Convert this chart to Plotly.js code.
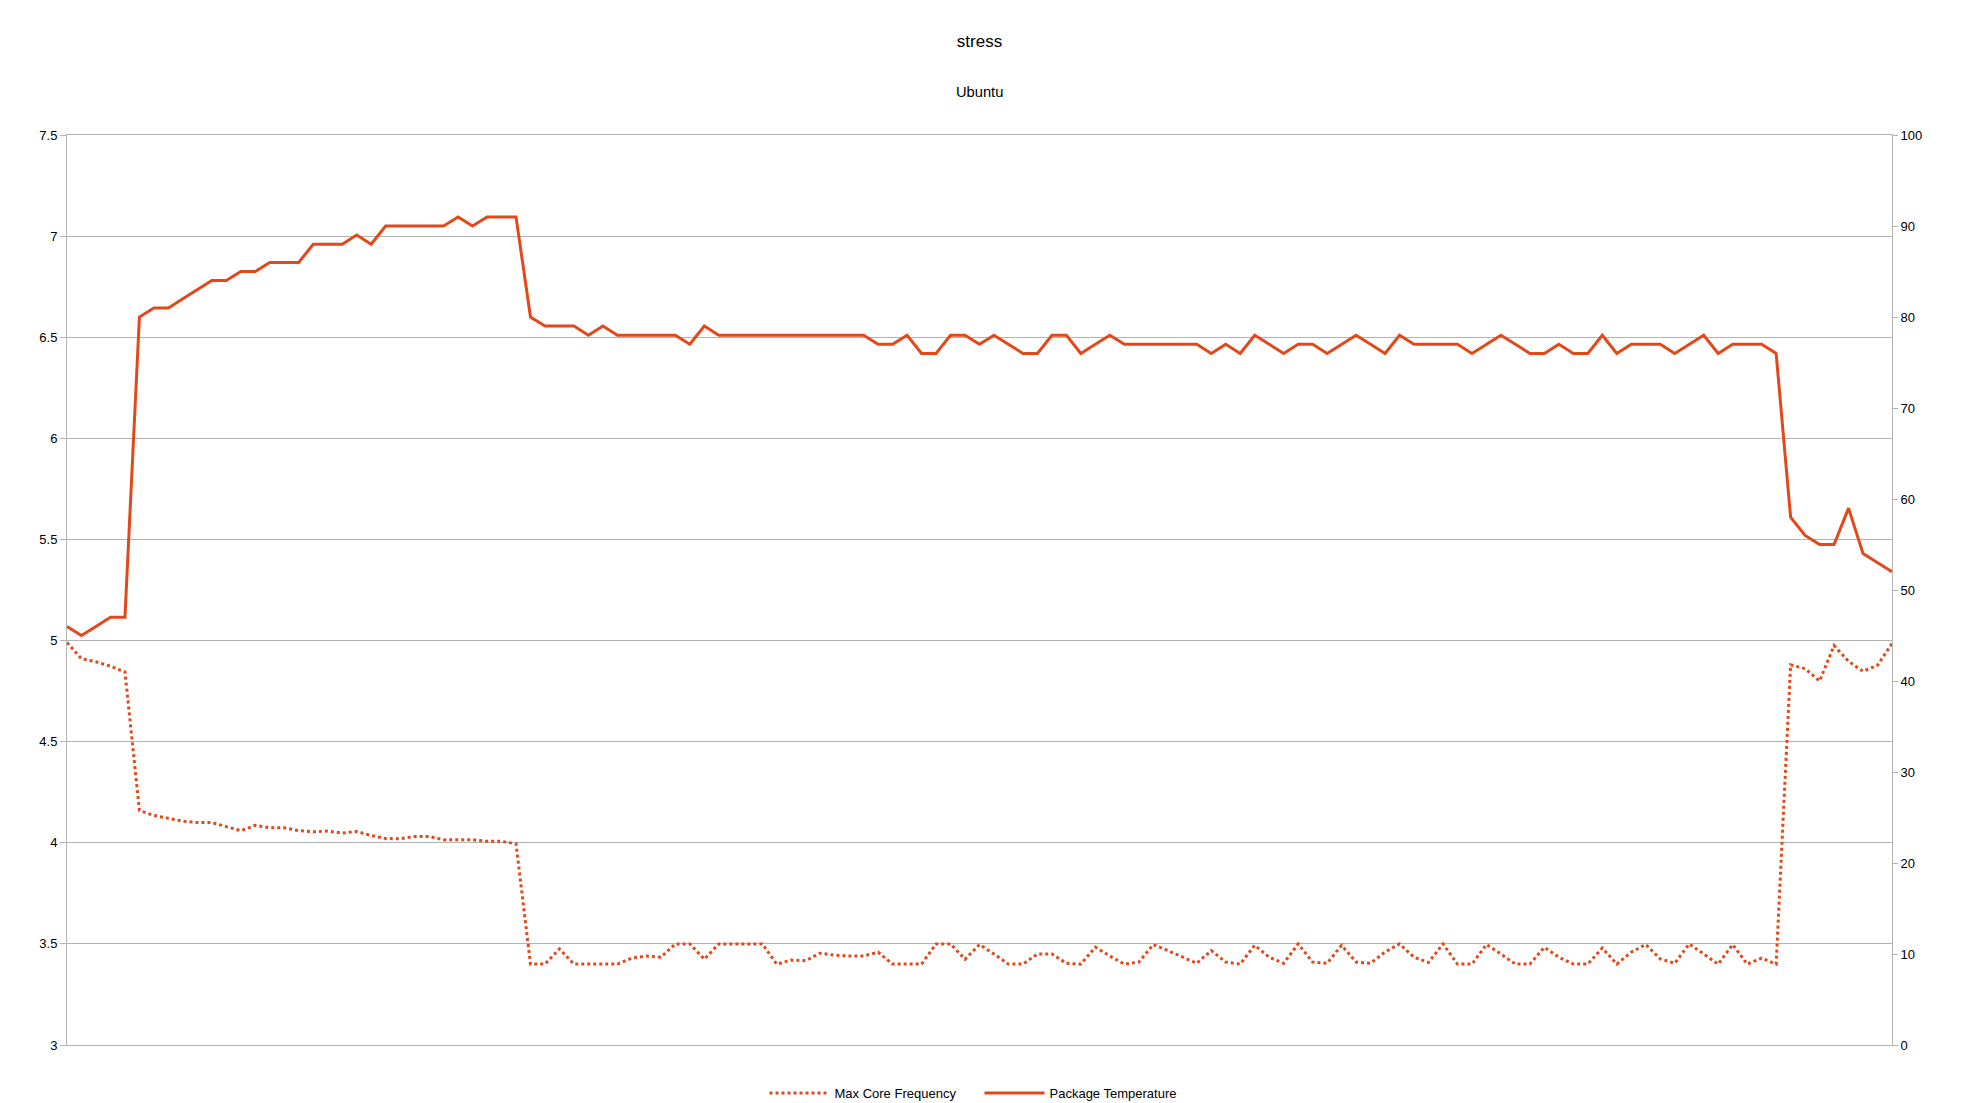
<!DOCTYPE html>
<html>
<head>
<meta charset="utf-8">
<script src="https://cdn.plot.ly/plotly-3.0.1.min.js"></script>
<style>
  html, body { margin: 0; padding: 0; background: #ffffff; }
  #chart { width: 1962px; height: 1103px; }
</style>
</head>
<body>
<div id="chart"></div>
<script>
// ---- data ----
const chartTitle = "stress";
const chartSubtitle = "Ubuntu";
const seriesNames = ["Max Core Frequency", "Package Temperature"];

// Max Core Frequency (left axis)
const maxCoreFrequency = [
  4.99, 4.91, 4.895, 4.873, 4.845, 4.16, 4.135, 4.12, 4.107, 4.10,
  4.10, 4.08, 4.06, 4.086, 4.074, 4.074, 4.06, 4.054, 4.058, 4.048,
  4.056, 4.036, 4.021, 4.02, 4.031, 4.031, 4.015, 4.015, 4.015, 4.007,
  4.007, 3.995, 3.40, 3.40, 3.475, 3.40, 3.40, 3.40, 3.40, 3.43,
  3.44, 3.434, 3.50, 3.50, 3.424, 3.50, 3.50, 3.50, 3.50, 3.40,
  3.42, 3.417, 3.454, 3.444, 3.44, 3.44, 3.459, 3.40, 3.40, 3.40,
  3.50, 3.50, 3.424, 3.497, 3.45, 3.40, 3.40, 3.45, 3.45, 3.404,
  3.40, 3.484, 3.44, 3.40, 3.41, 3.497, 3.467, 3.437, 3.404, 3.467,
  3.41, 3.40, 3.493, 3.434, 3.404, 3.50, 3.41, 3.404, 3.493, 3.41,
  3.404, 3.46, 3.50, 3.434, 3.408, 3.50, 3.40, 3.40, 3.497, 3.45,
  3.40, 3.40, 3.483, 3.434, 3.40, 3.40, 3.48, 3.40, 3.459, 3.497,
  3.426, 3.404, 3.50, 3.45, 3.40, 3.497, 3.40, 3.43, 3.40, 4.88,
  4.861, 4.80, 4.975, 4.897, 4.848, 4.878, 4.985
];

// Package Temperature (right axis)
const packageTemperature = [
  46, 45, 46, 47, 47, 80, 81, 81, 82, 83,
  84, 84, 85, 85, 86, 86, 86, 88, 88, 88,
  89, 88, 90, 90, 90, 90, 90, 91, 90, 91,
  91, 91, 80, 79, 79, 79, 78, 79, 78, 78,
  78, 78, 78, 77, 79, 78, 78, 78, 78, 78,
  78, 78, 78, 78, 78, 78, 77, 77, 78, 76,
  76, 78, 78, 77, 78, 77, 76, 76, 78, 78,
  76, 77, 78, 77, 77, 77, 77, 77, 77, 76,
  77, 76, 78, 77, 76, 77, 77, 76, 77, 78,
  77, 76, 78, 77, 77, 77, 77, 76, 77, 78,
  77, 76, 76, 77, 76, 76, 78, 76, 77, 77,
  77, 76, 77, 78, 76, 77, 77, 77, 76, 58,
  56, 55, 55, 59, 54, 53, 52
];

// Axis tick values
const leftTicks = [3, 3.5, 4, 4.5, 5, 5.5, 6, 6.5, 7, 7.5];
const rightTicks = [0, 10, 20, 30, 40, 50, 60, 70, 80, 90, 100];

// ---- chart ----
const samples = packageTemperature.map((_, i) => i);
const lineColor = "#e2491a";
const gridColor = "#b3b3b3";
const fontFamily = "'Liberation Sans', Arial, sans-serif";

const traces = [
  {
    type: "scatter", mode: "lines", name: seriesNames[0],
    x: samples, y: maxCoreFrequency, yaxis: "y",
    line: { color: lineColor, width: 3, dash: "dot" },
    hoverinfo: "skip"
  },
  {
    type: "scatter", mode: "lines", name: seriesNames[1],
    x: samples, y: packageTemperature, yaxis: "y2",
    line: { color: lineColor, width: 3 },
    hoverinfo: "skip"
  }
];

const layout = {
  width: 1962, height: 1103,
  paper_bgcolor: "#ffffff", plot_bgcolor: "#ffffff",
  font: { family: fontFamily, size: 13, color: "#000000" },
  margin: { l: 67, r: 70, t: 135, b: 58, pad: 0, autoexpand: false },
  title: {
    text: chartTitle,
    font: { family: fontFamily, size: 17, color: "#000000" },
    x: 0.5, xanchor: "center", xref: "paper",
    y: 1 - 41 / 1103, yanchor: "middle", yref: "container"
  },
  annotations: [{
    text: chartSubtitle, showarrow: false,
    xref: "paper", yref: "paper", x: 0.5, y: 1.047,
    xanchor: "center", yanchor: "middle",
    font: { family: fontFamily, size: 14.7, color: "#000000" }
  }],
  xaxis: {
    range: [0, samples.length - 1],
    showgrid: false, zeroline: false, showticklabels: false, ticks: "",
    showline: true, linecolor: gridColor, linewidth: 1, mirror: true
  },
  yaxis: {
    range: [3, 7.5], tickvals: leftTicks, ticktext: leftTicks.map(String),
    showgrid: true, gridcolor: gridColor, gridwidth: 1,
    zeroline: false, showline: true, linecolor: gridColor, linewidth: 1,
    ticks: "outside", ticklen: 6, tickcolor: gridColor, tickwidth: 1,
    tickfont: { family: fontFamily, size: 13, color: "#000000" }
  },
  yaxis2: {
    range: [0, 100], tickvals: rightTicks, ticktext: rightTicks.map(String),
    overlaying: "y", side: "right",
    showgrid: false, zeroline: false, showline: true, linecolor: gridColor, linewidth: 1,
    ticks: "outside", ticklen: 5, tickcolor: gridColor, tickwidth: 1,
    tickfont: { family: fontFamily, size: 13, color: "#000000" }
  },
  showlegend: true,
  legend: {
    orientation: "h", x: 0.5, xanchor: "center", xref: "paper",
    y: 1 - 1093 / 1103, yanchor: "middle", yref: "container",
    font: { family: fontFamily, size: 13, color: "#000000" },
    itemwidth: 60, entrywidth: 140, entrywidthmode: "pixels",
    bgcolor: "rgba(0,0,0,0)"
  }
};

Plotly.newPlot("chart", traces, layout, { staticPlot: true, displayModeBar: false });
</script>
</body>
</html>
